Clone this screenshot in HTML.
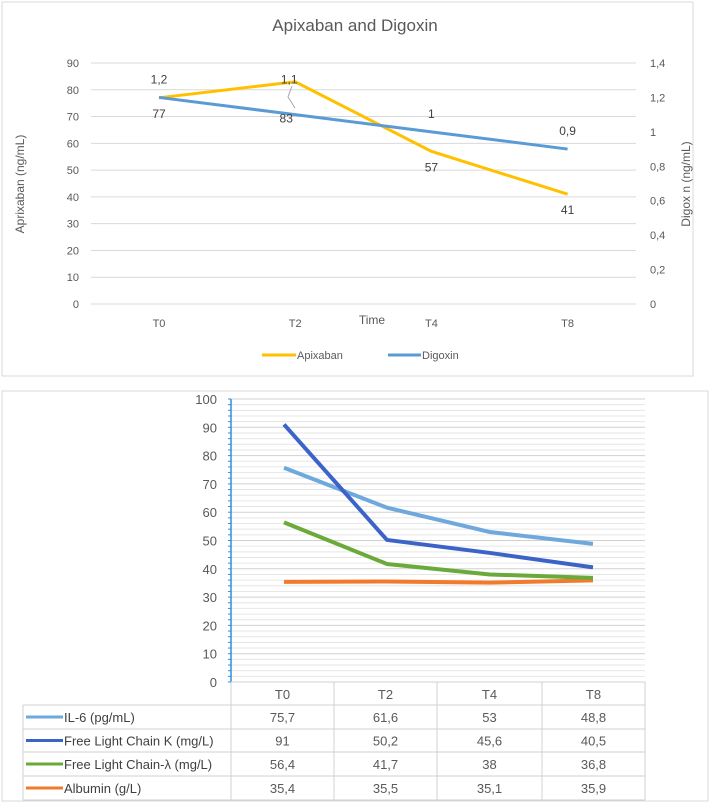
<!DOCTYPE html>
<html><head><meta charset="utf-8"><style>
html,body{margin:0;padding:0;background:#fff;}
svg{display:block;font-family:"Liberation Sans",sans-serif;}
</style></head><body>
<svg width="709" height="802" viewBox="0 0 709 802">
<rect x="2" y="2" width="691" height="374" fill="#fff" stroke="#d9d9d9"/>
<text x="355" y="31" font-size="17" fill="#595959" text-anchor="middle">Apixaban and Digoxin</text>
<g id="top"></g>
<text transform="translate(24,184) rotate(-90)" font-size="12" fill="#595959" text-anchor="middle">Aprixaban (ng/mL)</text>
<text transform="translate(690,184) rotate(-90)" font-size="12" fill="#595959" text-anchor="middle">Digox n (ng/mL)</text>
<text x="372" y="324" font-size="12" fill="#595959" text-anchor="middle">Time</text>
<g><line x1="262" y1="355" x2="296" y2="355" stroke="#ffc000" stroke-width="3"/><text x="297" y="359" font-size="11" fill="#595959">Apixaban</text></g>
<g><line x1="388" y1="355" x2="421" y2="355" stroke="#5b9bd5" stroke-width="3"/><text x="422" y="359" font-size="11" fill="#595959">Digoxin</text></g>

<rect x="2" y="391" width="706" height="410" fill="#fff" stroke="#d9d9d9"/>
<g id="bot"></g>
</svg>
<script>
const NS="http://www.w3.org/2000/svg";
function mk(p,t,a){const e=document.createElementNS(NS,t);for(const k in a)e.setAttribute(k,a[k]);p.appendChild(e);return e;}
// top chart data
const topCats=["T0","T2","T4","T8"];
const apixaban=[77,83,57,41];
const digoxin=[1.2,1.1,1,0.9];
const apixLabels=["77","83","57","41"];
const digLabels=["1,2","1,1","1","0,9"];
const leftTicks=[0,10,20,30,40,50,60,70,80,90];
const rightTicks=["0","0,2","0,4","0,6","0,8","1","1,2","1,4"];
// bottom chart data
const botCats=["T0","T2","T4","T8"];
const il6=[75.7,61.6,53,48.8];
const flcK=[91,50.2,45.6,40.5];
const flcL=[56.4,41.7,38,36.8];
const albumin=[35.4,35.5,35.1,35.9];
const botTicks=[0,10,20,30,40,50,60,70,80,90,100];

// top axes
const T=document.getElementById('top');
const tx=i=>159+i*136.2, tyL=v=>304-v*(241/90), tyR=v=>304-v*(241/1.4);
leftTicks.forEach(v=>{
  const l=mk(T,'line',{x1:91,x2:636,y1:tyL(v),y2:tyL(v),stroke:'#d9d9d9','stroke-width':1});
  
  
  const t=mk(T,'text',{x:79,y:tyL(v)+4,'font-size':11,fill:'#595959','text-anchor':'end'});t.textContent=v;
  
  
});
rightTicks.forEach((s,i)=>{
  const t=mk(T,'text',{x:650,y:tyR(i*0.2)+4,'font-size':11,fill:'#595959'});t.textContent=s;
  
  
});
topCats.forEach((c,i)=>{
  const t=mk(T,'text',{x:tx(i),y:327,'font-size':11,fill:'#595959','text-anchor':'middle'});t.textContent=c;
  
  
});
const pa=mk(T,'polyline',{points:apixaban.map((v,i)=>tx(i)+','+tyL(v)).join(' '),fill:'none',stroke:'#ffc000','stroke-width':3});


const pd=mk(T,'polyline',{points:digoxin.map((v,i)=>tx(i)+','+tyR(v)).join(' '),fill:'none',stroke:'#5b9bd5','stroke-width':3});


apixaban.forEach((v,i)=>{
  const y=(i==1?tyR(digoxin[i])+8:tyL(v)+20);
  const t=mk(T,'text',{x:tx(i)-(i==1?9:0),y:y,'font-size':12,fill:'#404040','text-anchor':'middle'});t.textContent=apixLabels[i];
  
  
});
digoxin.forEach((v,i)=>{
  const y=(i==1?tyL(apixaban[i])+2:tyR(v)-14);
  const t=mk(T,'text',{x:tx(i)-(i==1?6:0),y:y,'font-size':12,fill:'#404040','text-anchor':'middle'});t.textContent=digLabels[i];
  
  
});
const ll=mk(T,'polyline',{points:"292,86 288,97 295,108",fill:'none',stroke:'#a6a6a6','stroke-width':1});



// bottom chart
const B=document.getElementById('bot');
const bx=i=>284+i*103, by=v=>682-v*2.83;
for(let v=2;v<100;v+=2){if(v%10)mk(B,'line',{x1:231,x2:645,y1:by(v),y2:by(v),stroke:'#e6e6e6','stroke-width':1});}
botTicks.forEach(v=>{
  const l=mk(B,'line',{x1:231,x2:645,y1:by(v),y2:by(v),stroke:'#d0d0d0','stroke-width':1});
  
  
  const t=mk(B,'text',{x:217,y:by(v)+5,'font-size':13,fill:'#595959','text-anchor':'end'});t.textContent=v;
  
  
});
const ax=mk(B,'line',{x1:231,x2:231,y1:by(100),y2:by(0),stroke:'#2e8fe0','stroke-width':1.5});


for(let v=0;v<=100;v+=2)mk(B,'line',{x1:228,x2:231,y1:by(v),y2:by(v),stroke:'#2e8fe0','stroke-width':1});
const series=[["IL-6 (pg/mL)",il6,"#6fa8dc","il6"],["Free Light Chain K (mg/L)",flcK,"#3c64c8","flc-kappa"],["Free Light Chain-λ (mg/L)",flcL,"#6aaa3a","flc-lambda"],["Albumin (g/L)",albumin,"#f07b2c","albumin"]];
[3,0,2,1].forEach(k=>{const s=series[k];
  const p=mk(B,'polyline',{points:s[1].map((v,i)=>bx(i)+','+by(v)).join(' '),fill:'none',stroke:s[2],'stroke-width':4,'stroke-linejoin':'round'});
  
  
});
// table
const cols=[231,334,437,542,645], rows=[682,705,729,752,776,800];
mk(B,'line',{x1:231,x2:645,y1:682,y2:682,stroke:'#d0d0d0'});
rows.forEach((y,r)=>{ if(r>0) mk(B,'line',{x1:r==1?23:231,x2:645,y1:y,y2:y,stroke:'#d0d0d0'}); });
mk(B,'line',{x1:23,x2:231,y1:729,y2:729,stroke:'#d0d0d0'});
mk(B,'line',{x1:23,x2:231,y1:752,y2:752,stroke:'#d0d0d0'});
mk(B,'line',{x1:23,x2:231,y1:776,y2:776,stroke:'#d0d0d0'});
mk(B,'line',{x1:23,x2:231,y1:800,y2:800,stroke:'#d0d0d0'});
cols.forEach(x=>mk(B,'line',{x1:x,x2:x,y1:682,y2:800,stroke:'#d0d0d0'}));
mk(B,'line',{x1:23,x2:23,y1:705,y2:800,stroke:'#d0d0d0'});
botCats.forEach((c,i)=>{
  const t=mk(B,'text',{x:(cols[i]+cols[i+1])/2,y:699,'font-size':13,fill:'#595959','text-anchor':'middle'});t.textContent=c;
  
  
});
series.forEach((s,r)=>{
  const y=(rows[r+1]+rows[r+2])/2;
  const g=mk(B,'g',{});
  
  
  mk(g,'line',{x1:26,x2:63,y1:y,y2:y,stroke:s[2],'stroke-width':3});
  const lt=mk(g,'text',{x:64,y:y+5,'font-size':13,fill:'#404040'});lt.textContent=s[0];
  s[1].forEach((v,i)=>{
    const t=mk(g,'text',{x:(cols[i]+cols[i+1])/2,y:y+5,'font-size':13,fill:'#595959','text-anchor':'middle'});t.textContent=String(v).replace('.',',');
  });
});
</script>
</body></html>
